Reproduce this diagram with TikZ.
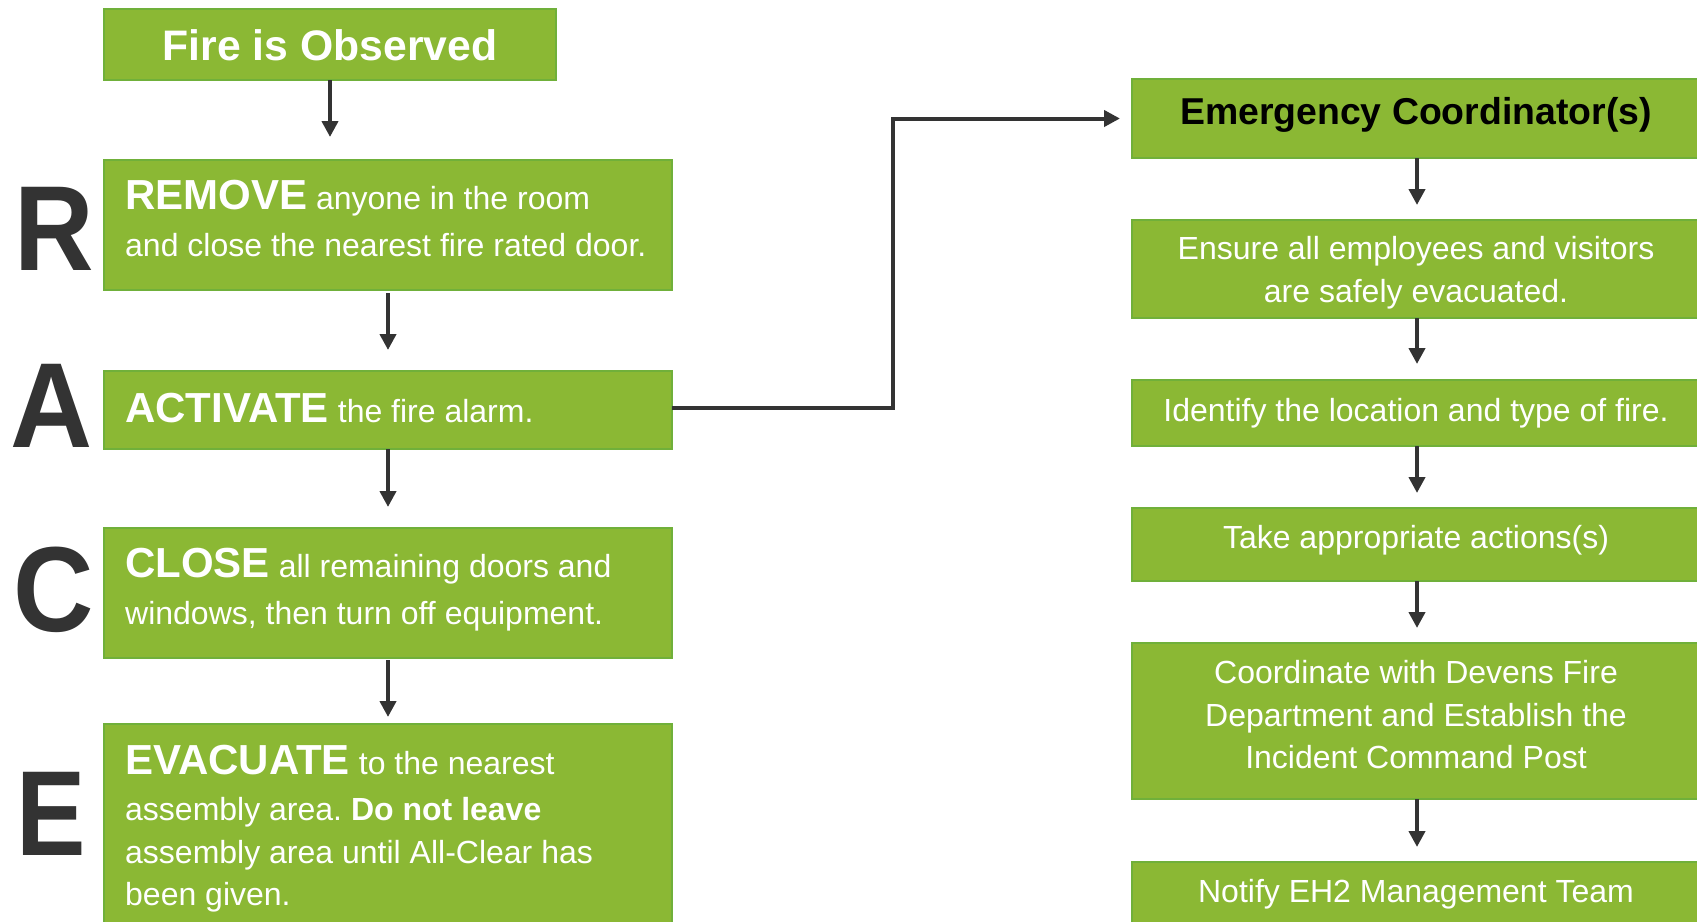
\documentclass[tikz,border=0pt]{standalone}
\usepackage{fontspec}
\setmainfont{Liberation Sans}
\usetikzlibrary{arrows.meta}
\definecolor{gfill}{RGB}{139,184,52}
\definecolor{gline}{RGB}{112,176,58}
\definecolor{ink}{RGB}{51,51,51}
\frenchspacing
\begin{document}
\begin{tikzpicture}[x=1pt,y=-1pt,
  box/.style={draw=gline, fill=gfill, line width=1.2pt, inner sep=0pt, outer sep=0pt, anchor=north west},
  flow/.style={draw=ink, line width=4pt, -{Triangle[length=16pt,width=16pt]}},
  bigletter/.style={font=\fontsize{121}{121}\selectfont\bfseries, text=ink, inner sep=0pt, anchor=base west},
  tl/.style={font=\fontsize{32}{36}\selectfont, text=white, inner sep=0pt, anchor=base west},
  tc/.style={font=\fontsize{32}{36}\selectfont, text=white, inner sep=0pt, anchor=base}
]
\newcommand{\kwd}[1]{{\fontsize{42}{42}\selectfont\bfseries #1}}
\useasboundingbox (0,0) rectangle (1697,921);

% left column boxes
\node[box, minimum width=452pt, minimum height=71pt] (fire) at (104,9) {};
\node[box, minimum width=568pt, minimum height=130pt] (remove) at (104,160) {};
\node[box, minimum width=568pt, minimum height=78pt] (activate) at (104,371) {};
\node[box, minimum width=568pt, minimum height=130pt] (close) at (104,528) {};
\node[box, minimum width=568pt, minimum height=220pt] (evac) at (104,724) {};

% right column boxes
\node[box, minimum width=570pt, minimum height=79pt] (emerg) at (1132,79) {};
\node[box, minimum width=570pt, minimum height=98pt] (ensure) at (1132,220) {};
\node[box, minimum width=570pt, minimum height=66pt] (identify) at (1132,380) {};
\node[box, minimum width=570pt, minimum height=73pt] (take) at (1132,508) {};
\node[box, minimum width=570pt, minimum height=156pt] (coord) at (1132,643) {};
\node[box, minimum width=570pt, minimum height=80pt] (notify) at (1132,862) {};

% big letters
\node[bigletter, xscale=0.91] (R) at (14.5,270) {R};
\node[bigletter, xscale=0.94] (A) at (10,447) {A};
\node[bigletter, xscale=0.92] (C) at (13.5,631) {C};
\node[bigletter, xscale=0.86] (E) at (16,855) {E};

% left texts
\node[font=\fontsize{42.7}{42.7}\selectfont\bfseries, text=white, inner sep=0pt, anchor=base] (firet) at (330,60) {Fire is Observed};
\node[tl] (rem1) at (125,209) {\kwd{REMOVE} anyone in the room};
\node[tl] (rem2) at (125,256) {and close the nearest fire rated door.};
\node[tl] (act1) at (125,422) {\kwd{ACTIVATE} the fire alarm.};
\node[tl] (clo1) at (125,577) {\kwd{CLOSE} all remaining doors and};
\node[tl] (clo2) at (125,624) {windows, then turn off equipment.};
\node[tl] (eva1) at (125,774) {\kwd{EVACUATE} to the nearest};
\node[tl] (eva2) at (125,820) {assembly area. \textbf{Do not leave}};
\node[tl] (eva3) at (125,863) {assembly area until All-Clear has};
\node[tl] (eva4) at (125,905) {been given.};

% right texts
\node[font=\fontsize{37.4}{37.4}\selectfont\bfseries, text=black, inner sep=0pt, anchor=base] (emergt) at (1416,124) {Emergency Coordinator(s)};
\node[tc] (ens1) at (1416,259) {Ensure all employees and visitors};
\node[tc] (ens2) at (1416,302) {are safely evacuated.};
\node[tc] (idt) at (1416,421) {Identify the location and type of fire.};
\node[tc] (tkt) at (1416,548) {Take appropriate actions(s)};
\node[tc] (co1) at (1416,683) {Coordinate with Devens Fire};
\node[tc] (co2) at (1416,726) {Department and Establish the};
\node[tc] (co3) at (1416,768) {Incident Command Post};
\node[tc] (not) at (1416,902) {Notify EH2 Management Team};

% left arrows
\draw[flow, shorten >=23pt] (fire.south) -- (fire.south |- remove.north);
\draw[flow, shorten <=3pt, shorten >=21pt] (remove.south) -- (remove.south |- activate.north);
\draw[flow, shorten >=21pt] (activate.south) -- (activate.south |- close.north);
\draw[flow, shorten <=2pt, shorten >=7pt] (close.south) -- (close.south |- evac.north);

% cross connector
\draw[flow, shorten >=12pt] ([yshift=2pt]activate.east) -- ++(221,0) |- (emerg.west);

% right arrows
\draw[flow, shorten >=15pt] (emerg.south) -- (emerg.south |- ensure.north);
\draw[flow, shorten >=16pt] (ensure.south) -- (ensure.south |- identify.north);
\draw[flow, shorten >=15pt] (identify.south) -- (identify.south |- take.north);
\draw[flow, shorten >=15pt] (take.south) -- (take.south |- coord.north);
\draw[flow, shorten >=15pt] (coord.south) -- (coord.south |- notify.north);
\end{tikzpicture}
\end{document}
